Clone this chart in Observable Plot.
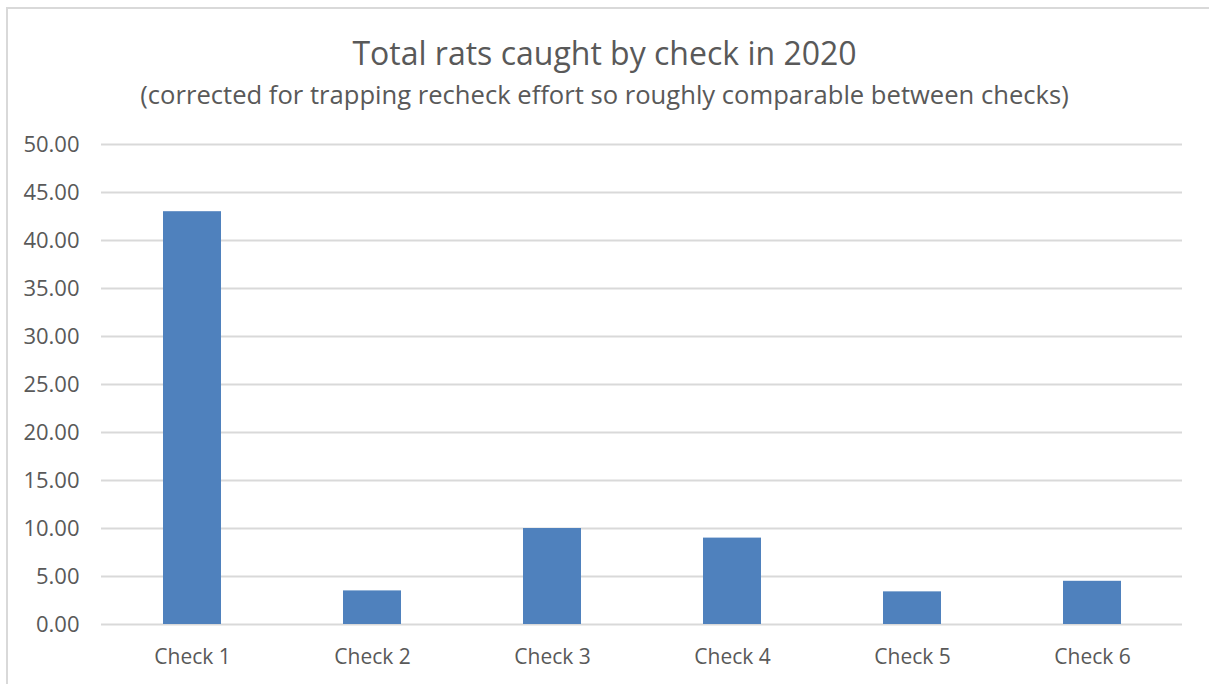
<!DOCTYPE html>
<html><head><meta charset="utf-8">
<script src="https://cdn.jsdelivr.net/npm/d3@7"></script>
<script src="https://cdn.jsdelivr.net/npm/@observablehq/plot@0.6"></script>
<style>
body{margin:0;background:#fff;width:1209px;height:684px;overflow:hidden;position:relative;font-family:"Open Sans",sans-serif;}
#frame{position:absolute;left:6px;top:7px;width:1230px;height:720px;border:2px solid #D9D9D9;box-sizing:border-box}
#title{position:absolute;left:0;width:1209px;top:37px;text-align:center;color:#595959;font-size:32px;line-height:32px;white-space:nowrap}
#subtitle{position:absolute;left:0;width:1209px;top:82px;text-align:center;color:#595959;font-size:25.6px;line-height:25.6px;white-space:nowrap}
#chart{position:absolute;left:0;top:120px}
</style></head>
<body>
<div id="frame"></div>
<div id="title">Total rats caught by check in 2020</div>
<div id="subtitle">(corrected for trapping recheck effort so roughly comparable between checks)</div>
<div id="chart"></div>
<script>
const categories = ["Check 1", "Check 2", "Check 3", "Check 4", "Check 5", "Check 6"];
const values = [43.0, 3.5, 10.0, 9.0, 3.4, 4.5];
const yTicks = [0, 5, 10, 15, 20, 25, 30, 35, 40, 45, 50];

const data = categories.map((c, i) => ({category: c, value: values[i]}));

const chart = Plot.plot({
  width: 1209,
  height: 564,
  marginLeft: 101,
  marginRight: 27,
  marginTop: 24,
  marginBottom: 60,
  style: {fontFamily: "Open Sans", fontSize: "21px", color: "#595959", background: "transparent"},
  x: {domain: categories, paddingInner: 0.68, paddingOuter: 0.34, label: null},
  y: {domain: [0, 50], label: null},
  marks: [
    Plot.gridY(yTicks, {stroke: "#D9D9D9", strokeOpacity: 1, strokeWidth: 2}),
    Plot.barY(data, {x: "category", y: "value", fill: "#4F81BD"}),
    Plot.axisY(yTicks, {tickSize: 0, tickPadding: 22, fontSize: 22, tickFormat: d3.format(".2f"), label: null}),
    Plot.axisX({tickSize: 0, tickPadding: 25, fontSize: 21, label: null})
  ]
});
document.getElementById("chart").append(chart);
</script>
</body></html>
